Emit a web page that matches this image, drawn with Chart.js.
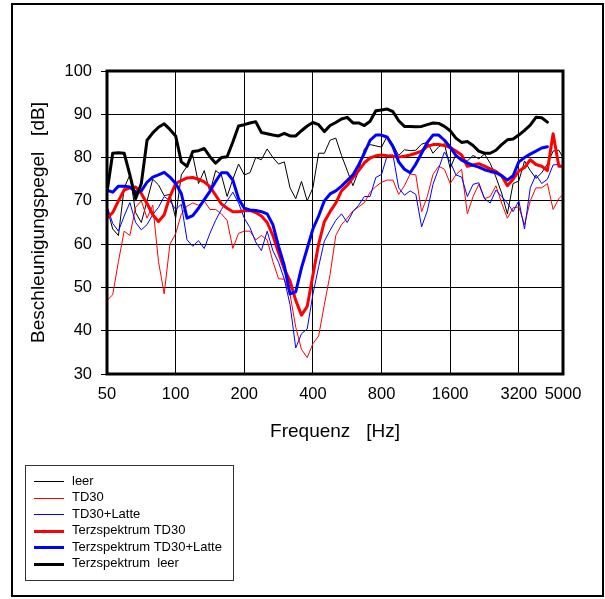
<!DOCTYPE html>
<html>
<head>
<meta charset="utf-8">
<script src="https://cdn.jsdelivr.net/npm/chart.js@4/dist/chart.umd.min.js"></script>
<style>
  html, body { margin: 0; padding: 0; background: #fff; }
  canvas { display: block; }
</style>
</head>
<body>
<canvas id="c" width="605" height="599"></canvas>
<script>
// 1/12-octave frequency points (Hz)
const freqs = [50, 52.97, 56.12, 59.46, 63, 66.74, 70.71, 74.92, 79.37, 84.09,
  89.09, 94.39, 100, 105.9, 112.2, 118.9, 126, 133.5, 141.4, 149.8,
  158.7, 168.2, 178.2, 188.8, 200, 211.9, 224.5, 237.8, 252, 267,
  282.8, 299.7, 317.5, 336.4, 356.4, 377.6, 400, 423.8, 449, 475.7,
  504, 534, 565.7, 599.3, 635, 672.7, 712.7, 755.1, 800, 847.6,
  898, 951.4, 1008, 1068, 1131, 1199, 1270, 1345, 1425, 1510,
  1600, 1695, 1796, 1903, 2016, 2136, 2263, 2397, 2540, 2691,
  2851, 3021, 3200, 3390, 3592, 3805, 4032, 4271, 4525, 4794, 5000];

// Beschleunigungspegel in dB
const leer = [68.4, 63.5, 62, 73, 76, 67.3, 65, 70, 75, 73.7,
  71.2, 71.5, 66, 76, 78, 80.5, 74, 77, 72, 77,
  76, 71, 75, 78.5, 76, 76.5, 80, 79.5, 82, 80,
  78.5, 79, 73, 70.5, 74.5, 70, 73, 81, 81, 84,
  84.5, 80.5, 77, 73.5, 77, 82, 83, 82.7, 82.4, 85,
  83, 80.5, 81.8, 81.6, 81.7, 83.1, 83.5, 81, 82.5, 83.2,
  77.5, 80.7, 79.6, 79.2, 80.5, 79.7, 80.8, 78.7, 75.5, 71.8,
  67, 74, 74.6, 79.2, 77, 75.2, 76.5, 78.5, 81.5, 81.7, 80];

const td30 = [47, 48.3, 56, 63, 62, 68.5, 70, 66, 69, 56,
  48.5, 60, 62.4, 66.9, 68.8, 69.5, 69, 70, 68, 68,
  67, 65.5, 59, 62.5, 63, 63, 61, 62, 61, 56,
  52, 51.9, 48.4, 40.8, 35.7, 33.8, 37, 38.8, 46, 53,
  62, 64.5, 66, 67.7, 68.6, 69.6, 72, 73.3, 74.3, 74.8,
  74.8, 71.5, 73.5, 76.2, 76, 67.5, 71, 76.1, 78, 77.3,
  74, 76, 77.3, 67, 71, 73.8, 70.5, 71, 73.5, 69.5,
  66, 68.4, 68.6, 64.5, 70, 73, 73, 74, 68, 70.5, 71.5];

const td30Latte = [68.8, 64.8, 63, 66.5, 69.6, 65, 63.3, 64.5, 66.8, 68.5,
  71, 70, 68, 69.2, 61, 59.5, 60.8, 59, 62.5, 65.5,
  68, 70, 72, 69.5, 66, 63.8, 60.5, 58.5, 63, 58.5,
  55.8, 51.9, 46, 36, 39.3, 40.4, 48.4, 54.8, 60.7, 63.2,
  65.5, 67, 65, 67.5, 69, 71, 71, 75.4, 76.1, 80.5,
  80.6, 73, 71.3, 72.3, 71.5, 64, 67.7, 73.8, 77.5, 81.3,
  79, 76, 75.5, 71, 73.8, 74.2, 70.5, 69.5, 72.5, 71,
  69.5, 67.5, 70, 63.5, 73, 76, 74, 75, 78.3, 78.4, 78];

const terzTd30 = [66, 67.3, 70, 72.5, 73, 73.2, 71.7, 69.4, 66.8, 65.2,
  66.8, 71, 74, 74.7, 75.3, 75.4, 75, 74.4, 73.3, 71.3,
  69.3, 68.3, 67.5, 67.5, 67.7, 67.8, 67.3, 66.5, 65, 62,
  58, 54.2, 51.5, 47, 43.6, 45.6, 52.8, 60, 65.2, 67.5,
  69.5, 72.3, 73.6, 75.3, 77, 78.8, 79.9, 80.4, 80.6, 80.4,
  80.3, 80.1, 80.3, 80.6, 81, 81.5, 82.6, 83, 83, 82.8,
  82.3, 81.5, 80.6, 78, 78.3, 78.6, 78, 77.4, 76.8, 75.8,
  73.5, 75, 76.9, 77.7, 79.5, 78.4, 78, 77, 85.5, 78, 78];

const terzTd30Latte = [72.5, 72, 73.4, 73.4, 73.2, 72, 72.3, 74.3, 75.5, 76,
  76.6, 75.5, 74, 71.7, 66, 66.6, 68.3, 70.3, 72.2, 74.5,
  76.5, 76.5, 74.8, 70.5, 68.3, 67.9, 67.8, 67.5, 67, 64.5,
  59.5, 55, 48.5, 49, 54.5, 59, 63.5, 66.5, 70, 71.6,
  72.3, 73.4, 74.7, 76, 78.3, 81, 84, 85.2, 85.2, 84.7,
  82.5, 79, 77.3, 76.5, 78.5, 81, 83.5, 85.2, 85.2, 84,
  82.4, 80.5, 79.4, 78.8, 78.2, 77.8, 77.2, 76.8, 76.5, 75.8,
  74.8, 75.8, 79, 80, 80.8, 81.5, 82.2, 82.5, null, null, null];

const terzLeer = [72, 81, 81.1, 81, 76, 70.5, 74, 84, 85.7, 87,
  87.8, 86.5, 85, 79, 78, 81.4, 81.6, 82.1, 80.2, 78.7,
  80, 80.2, 83.6, 87.3, 87.6, 88, 88.3, 85.8, 85.5, 85.2,
  85, 85.6, 85, 85, 86.2, 87.3, 88.1, 87.6, 86, 87.4,
  88.1, 88.9, 89.3, 88, 88, 87.4, 88.4, 90.8, 91, 91.2,
  90.6, 88.5, 87.2, 87.2, 87.1, 87.2, 87.6, 88, 87.9, 87.2,
  86.2, 84.5, 83.5, 83.7, 82.8, 81.5, 81, 81, 81.7, 83,
  84.1, 84.3, 85.2, 86.3, 87.5, 89.3, 89.2, 88.2, null, null, null];

const xTicks = [50, 100, 200, 400, 800, 1600, 3200, 5000];
const yTicks = [30, 40, 50, 60, 70, 80, 90, 100];

const FONT = 'Liberation Sans, Arial, sans-serif';
Chart.defaults.font.family = FONT;
Chart.defaults.color = '#000';

function series(label, data, color, width, order) {
  return {
    label, data, borderColor: color, backgroundColor: color,
    borderWidth: width, pointRadius: 0, pointHoverRadius: 0,
    tension: 0, fill: false, spanGaps: false, order,
    borderJoinStyle: 'round', borderCapStyle: 'round'
  };
}

// frames around plot and page, and the boxed legend
const framesAndLegend = {
  id: 'framesAndLegend',
  afterDatasetsDraw(chart) {
    const { ctx, chartArea: a } = chart;
    ctx.save();
    ctx.strokeStyle = '#000';
    ctx.lineWidth = 3;
    ctx.strokeRect(a.left, a.top, a.right - a.left, a.bottom - a.top);
    ctx.restore();
  },
  afterDraw(chart) {
    const { ctx } = chart;
    ctx.save();
    ctx.strokeStyle = '#000';
    ctx.lineWidth = 2;
    ctx.strokeRect(12, 4, 591, 592);

    // legend box
    ctx.lineWidth = 1;
    ctx.strokeStyle = '#333';
    ctx.strokeRect(25.5, 465.5, 208, 115);
    ctx.font = '13px ' + FONT;
    ctx.textBaseline = 'middle';
    ctx.textAlign = 'left';
    chart.data.datasets.forEach((ds, i) => {
      const y = Math.round(481 + i * 16.5) + (ds.borderWidth % 2 ? 0.5 : 0);
      ctx.beginPath();
      ctx.strokeStyle = ds.borderColor;
      ctx.lineWidth = ds.borderWidth;
      ctx.moveTo(34, y);
      ctx.lineTo(64, y);
      ctx.stroke();
      ctx.fillStyle = '#000';
      ctx.fillText(ds.label, 72, 481 + i * 16.5);
    });
    ctx.restore();
  }
};

new Chart(document.getElementById('c'), {
  type: 'line',
  data: {
    labels: freqs,
    datasets: [
      series('leer', leer, '#000000', 1, 6),
      series('TD30', td30, '#ff0000', 1, 5),
      series('TD30+Latte', td30Latte, '#0000ff', 1, 4),
      series('Terzspektrum TD30', terzTd30, '#ff0000', 3, 3),
      series('Terzspektrum TD30+Latte', terzTd30Latte, '#0000ff', 3, 2),
      series('Terzspektrum  leer', terzLeer, '#000000', 3, 1)
    ]
  },
  options: {
    responsive: false,
    animation: false,
    devicePixelRatio: 1,
    layout: { padding: { left: 0, top: 71, right: 42, bottom: 0 } },
    plugins: { legend: { display: false }, tooltip: { enabled: false } },
    scales: {
      x: {
        type: 'logarithmic',
        min: 50, max: 5000,
        afterFit(s) { s.height = 225; },
        afterBuildTicks(s) { s.ticks = xTicks.map(v => ({ value: v })); },
        grid: { color: '#000', lineWidth: 1, drawTicks: false },
        border: { display: false },
        ticks: {
          autoSkip: false, maxRotation: 0, padding: 11,
          font: { size: 16.5 }, color: '#000',
          callback: v => String(v)
        },
        title: {
          display: true, text: 'Frequenz   [Hz]',
          font: { size: 19 }, color: '#000',
          padding: { top: 0, bottom: 156 }
        }
      },
      y: {
        type: 'linear',
        min: 30, max: 100,
        afterFit(s) { s.width = 107; },
        afterBuildTicks(s) { s.ticks = yTicks.map(v => ({ value: v })); },
        grid: { color: '#000', lineWidth: 1, drawTicks: true, tickLength: 6 },
        border: { display: false },
        ticks: { padding: 9, font: { size: 16.5 }, color: '#000' },
        title: {
          display: true, text: 'Beschleunigungspegel   [dB]',
          font: { size: 19 }, color: '#000',
          padding: { top: 27, bottom: 0 }
        }
      }
    }
  },
  plugins: [framesAndLegend]
});
</script>
</body>
</html>
